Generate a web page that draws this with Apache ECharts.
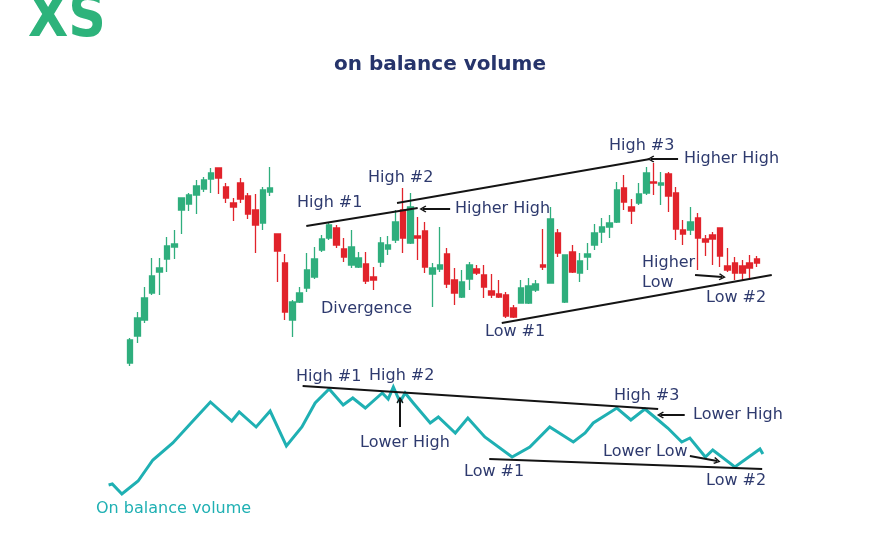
<!DOCTYPE html>
<html>
<head>
<meta charset="utf-8">
<script src="https://cdn.jsdelivr.net/npm/echarts@6/dist/echarts.min.js"></script>
<style>
  html, body { margin: 0; padding: 0; background: #ffffff; }
  #chart { width: 880px; height: 540px; }
</style>
</head>
<body>
<div id="chart"></div>
<script>
// ---- Price candles (one per session, index = session number) ----
const opens  = [17,44,60,87,108,121,133,170,176,185,191,201,212,193,177,197,184,170,157,188,146,117,60,78,92,103,130,142,152,131,115,113,116,103,118,131,140,170,137,144,149,106,111,126,100,83,101,111,105,89,86,85,72,77,77,90,115,97,147,78,128,107,123,135,148,153,158,192,173,177,187,198,195,206,187,150,150,162,141,145,152,114,117,114,117,121];
const closes = [40,62,82,104,112,134,136,182,185,194,200,207,202,182,173,181,166,155,190,192,129,68,78,87,110,121,141,155,135,123,133,122,99,100,137,135,158,142,173,142,113,112,115,96,87,98,115,107,93,85,83,64,63,92,94,96,113,161,127,125,108,119,126,147,153,157,190,178,169,186,207,197,197,184,151,146,158,142,138,141,124,110,107,107,112,117];
const lows   = [14,37,57,85,85,108,121,146,169,166,188,187,186,177,159,177,161,127,150,184,98,60,43,77,88,101,128,140,132,118,112,112,96,90,113,125,137,127,136,120,107,73,108,92,75,82,90,105,82,82,82,62,62,77,76,88,110,97,123,77,107,98,110,130,137,142,157,170,156,175,185,185,175,168,140,135,145,110,124,115,113,108,100,100,100,113];
const highs  = [42,68,93,122,122,143,150,182,187,200,203,212,212,197,182,202,187,186,193,213,146,126,80,93,127,133,145,157,155,142,150,128,128,113,143,144,170,192,187,163,158,117,153,132,112,110,118,115,115,106,100,88,75,100,102,100,151,173,151,125,135,127,137,156,162,165,198,205,181,197,213,217,208,208,193,160,173,167,145,148,152,132,123,120,125,124];

// ---- On balance volume line: [session position, OBV] ----
const obvPoints = [[-2.9,35],[-2.4,36],[-1.1,26],[1.1,39],[3.1,60],[5.8,77],[8.4,98],[10.9,118],[13.8,99],[14.8,108],[17.1,93],[19.0,109],[21.2,74],[23.3,93],[25.1,117],[27.0,131],[28.9,115],[30.2,122],[31.9,112],[34.2,127],[35.0,121],[35.7,133],[36.6,118],[37.3,127],[38.4,117],[40.7,97],[41.8,103],[44.1,87],[45.8,102],[48.1,83],[51.8,63],[54.2,73],[56.9,93],[60.1,78],[61.7,87],[62.8,97],[66.0,112],[67.9,100],[69.8,111],[71.6,100],[72.9,92],[74.8,78],[75.9,82],[78.0,63],[79.0,70],[82.0,53],[85.4,71],[85.8,66]];

// ---- Trend lines (price chart) ----
const priceHighLineA = [[23.9,154],[39.0,172]];
const priceHighLineB = [[36.2,177],[70.5,221]];
const priceLowLine   = [[50.4,57],[87.0,105]];
// ---- Trend lines (OBV) ----
const obvHighLine = [[23.4,134],[71.6,111]];
const obvLowLine  = [[48.7,61],[85.7,51]];

// ---- Arrows ----
const priceArrows = [
  [[43.4,171],[39.7,171]],
  [[74.3,221],[70.6,221]],
  [[76.6,105],[80.3,103]]
];
const obvArrows = [
  [[36.6,93],[36.6,120]],
  [[75.2,105],[71.9,105]],
  [[75.9,64],[79.6,59]]
];

// ---- Annotation labels ----
const priceLabels = [
  ['High #1', 297, 203], ['High #2', 368, 178], ['Higher High', 455, 209],
  ['High #3', 609, 146], ['Higher High', 684, 159], ['Divergence', 321, 309],
  ['Low #1', 485, 332], ['Higher', 642, 263], ['Low', 642, 283], ['Low #2', 706, 298]
];
const obvLabels = [
  ['High #1', 296, 377], ['High #2', 369, 376], ['Lower High', 360, 443],
  ['Low #1', 464, 472], ['High #3', 614, 396], ['Lower High', 693, 415],
  ['Lower Low', 603, 452], ['Low #2', 706, 481]
];

const GREEN = '#2fae7d', RED = '#e1232b', TEAL = '#1fb0b3', NAVY = '#2e3a6e', INK = '#141414';
const FONT = 'DejaVu Sans';
const chevron = 'path://M0,10 L10,0 L20,10 L17,11.5 L10,4.5 L3,11.5 Z';

const candleData = opens.map((o, i) => [i, o, closes[i], lows[i], highs[i]]);

function trend(data, xi) {
  return { type: 'line', xAxisIndex: xi, yAxisIndex: xi, data: data, symbol: 'none',
    lineStyle: { color: INK, width: 2 }, silent: true, animation: false, z: 3 };
}
function arrows(list, xi) {
  return { type: 'lines', coordinateSystem: 'cartesian2d', xAxisIndex: xi, yAxisIndex: xi,
    data: list.map(c => ({ coords: c })), symbol: ['none', chevron], symbolSize: [10, 7],
    lineStyle: { color: INK, width: 2, opacity: 1 }, silent: true, animation: false, z: 4 };
}
function label(t) {
  return { type: 'text', left: t[1], top: t[2] - 8,
    style: { text: t[0], fill: NAVY, font: '16px "' + FONT + '"' }, z: 10 };
}

const chart = echarts.init(document.getElementById('chart'), null, { renderer: 'canvas' });
const gridL = 100.49, gridR = 86.11;
chart.setOption({
  backgroundColor: '#ffffff',
  animation: false,
  grid: [
    { left: gridL, right: gridR, top: 140, height: 240 },
    { left: gridL, right: gridR, top: 370, height: 150 }
  ],
  xAxis: [
    { type: 'value', gridIndex: 0, min: -4, max: 90, show: false },
    { type: 'value', gridIndex: 1, min: -4, max: 90, show: false }
  ],
  yAxis: [
    { type: 'value', gridIndex: 0, min: 0, max: 240, show: false },
    { type: 'value', gridIndex: 1, min: 0, max: 150, show: false }
  ],
  series: [
    { type: 'candlestick', xAxisIndex: 0, yAxisIndex: 0, data: candleData,
      encode: { x: 0, y: [1, 2, 3, 4] }, barWidth: 6,
      itemStyle: { color: GREEN, color0: RED, borderColor: GREEN, borderColor0: RED, borderWidth: 1.3 } },
    trend(priceHighLineA, 0), trend(priceHighLineB, 0), trend(priceLowLine, 0),
    arrows(priceArrows, 0),
    { type: 'line', xAxisIndex: 1, yAxisIndex: 1, data: obvPoints, symbol: 'none',
      lineStyle: { color: TEAL, width: 3, join: 'miter' }, z: 2 },
    trend(obvHighLine, 1), trend(obvLowLine, 1),
    arrows(obvArrows, 1)
  ],
  graphic: [
    { type: 'text', left: 28, top: -8, scaleX: 0.9,
      style: { text: 'XS', fill: '#2db37b', font: 'bold 58px "' + FONT + '"' } },
    { type: 'text', left: 'center', top: 55,
      style: { text: 'on balance volume', fill: '#26346b', font: 'bold 20px "' + FONT + '"' } },
    { type: 'text', left: 96, top: 501,
      style: { text: 'On balance volume', fill: TEAL, font: '16px "' + FONT + '"' } }
  ].concat(priceLabels.map(label)).concat(obvLabels.map(label))
});
</script>
</body>
</html>
